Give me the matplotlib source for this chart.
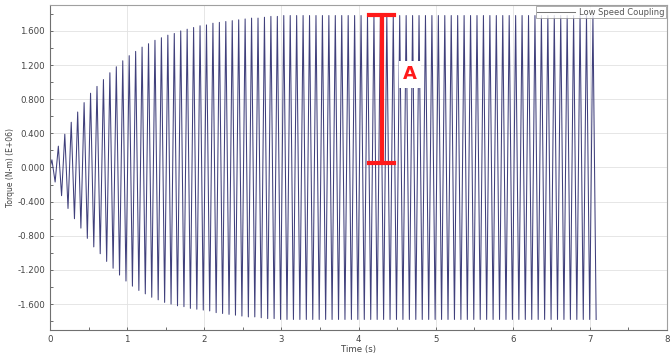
import numpy as np
import matplotlib.pyplot as plt
from matplotlib.ticker import MultipleLocator, FormatStrFormatter

# ─── Data ─────────────────────────────────────────────────────────────────────

period = 0.0835          # s, one oscillation cycle (~12 Hz)
t_first = 0.025          # s, time of the first positive peak

# positive peak of each cycle (E+06 N-m)
pos_peaks = [
    0.09, 0.25, 0.39, 0.53, 0.65, 0.76, 0.87, 0.95, 1.03, 1.11,
    1.18, 1.25, 1.31, 1.36, 1.41, 1.45, 1.49, 1.52, 1.55, 1.57,
    1.60, 1.62, 1.64, 1.66, 1.67, 1.69, 1.70, 1.71, 1.72, 1.73,
    1.74, 1.75, 1.75, 1.76, 1.77, 1.77, 1.78, 1.78, 1.78, 1.78,
    1.78, 1.78, 1.78, 1.78, 1.78, 1.78, 1.78, 1.78, 1.78, 1.78,
    1.78, 1.78, 1.78, 1.78, 1.78, 1.78, 1.78, 1.78, 1.78, 1.78,
    1.78, 1.78, 1.78, 1.78, 1.78, 1.78, 1.78, 1.78, 1.78, 1.78,
    1.78, 1.78, 1.78, 1.78, 1.78, 1.78, 1.78, 1.78, 1.78, 1.78,
    1.78, 1.78, 1.78, 1.78, 1.78,
]

# negative peak of each cycle (E+06 N-m)
neg_peaks = [
    -0.17, -0.33, -0.48, -0.60, -0.71, -0.83, -0.93, -1.01, -1.10, -1.18,
    -1.26, -1.33, -1.39, -1.44, -1.48, -1.52, -1.55, -1.58, -1.60, -1.62,
    -1.63, -1.65, -1.66, -1.67, -1.68, -1.70, -1.71, -1.72, -1.73, -1.74,
    -1.75, -1.75, -1.76, -1.77, -1.77, -1.78, -1.78, -1.78, -1.78, -1.78,
    -1.78, -1.78, -1.78, -1.78, -1.78, -1.78, -1.78, -1.78, -1.78, -1.78,
    -1.78, -1.78, -1.78, -1.78, -1.78, -1.78, -1.78, -1.78, -1.78, -1.78,
    -1.78, -1.78, -1.78, -1.78, -1.78, -1.78, -1.78, -1.78, -1.78, -1.78,
    -1.78, -1.78, -1.78, -1.78, -1.78, -1.78, -1.78, -1.78, -1.78, -1.78,
    -1.78, -1.78, -1.78, -1.78, -1.78,
]

# annotation "A" : amplitude marker
a_time = 4.30
a_low, a_high = 0.05, 1.79

# ─── Build the zig-zag between peaks ──────────────────────────────────────────

peaks = np.empty(2 * len(pos_peaks))
peaks[0::2] = pos_peaks
peaks[1::2] = neg_peaks
times = t_first + np.arange(len(peaks)) * period / 2
t = np.concatenate([[0.0], times])
y = np.concatenate([[0.0], peaks])

# ─── Plot ─────────────────────────────────────────────────────────────────────

fig = plt.figure(figsize=(6.7, 3.53), dpi=100)
ax = fig.add_axes([0.0746, 0.066, 0.921, 0.919])

ax.plot(t, y, color="#40407c", lw=0.75, label="Low Speed Coupling")

# red amplitude marker
red = "#ff1a1a"
ax.plot([a_time, a_time], [a_low, a_high], color=red, lw=3, solid_capstyle="butt")
ax.plot([a_time - 0.16, a_time + 0.16], [a_high, a_high], color=red, lw=3)
ax.plot([a_time - 0.16, a_time + 0.16], [a_low, a_low], color=red, lw=3)
ax.text(a_time + 0.37, 1.09, "A", color=red, fontsize=13, fontweight="bold",
        ha="center", va="center",
        bbox=dict(facecolor="white", edgecolor="none", pad=3))

ax.set_xlim(0, 8)
ax.set_ylim(-1.9, 1.9)
ax.xaxis.set_major_locator(MultipleLocator(1))
ax.xaxis.set_minor_locator(MultipleLocator(0.5))
ax.yaxis.set_major_locator(MultipleLocator(0.4))
ax.yaxis.set_minor_locator(MultipleLocator(0.2))
ax.yaxis.set_major_formatter(FormatStrFormatter("%.3f"))

ax.grid(True, which="major", color="#e2e2e2", lw=0.6)
ax.set_axisbelow(True)
ax.tick_params(axis="both", which="both", labelsize=6.2, colors="#555555",
               length=2.5, width=0.6, direction="in")
ax.tick_params(axis="both", which="major", labelcolor="#444444")
for s in ax.spines.values():
    s.set_color("#a0a0a0")
    s.set_linewidth(0.8)
ax.spines["left"].set_color("#707070")
ax.spines["bottom"].set_color("#707070")

ax.set_xlabel("Time (s)", fontsize=6.2, color="#444444", labelpad=1)
ax.set_ylabel("Torque (N-m) (E+06)", fontsize=5.5, color="#444444", labelpad=2)

leg = ax.legend(loc="upper right", fontsize=6, frameon=True, fancybox=False,
                borderaxespad=0.1, handlelength=4.5, borderpad=0.2,
                handletextpad=0.5, labelcolor="#555555")
leg.get_frame().set_edgecolor("#888888")
leg.get_frame().set_linewidth(0.6)
leg.get_lines()[0].set_color("#777777")

fig.savefig("out.png", dpi=100)
